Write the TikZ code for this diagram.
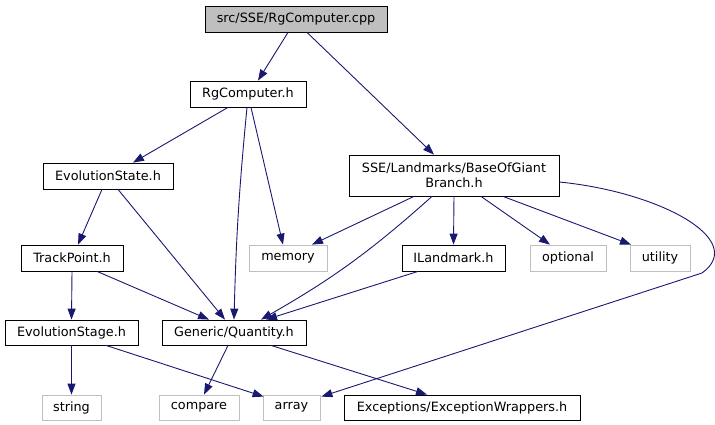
\documentclass[tikz,border=0pt]{standalone}
\usepackage{fontspec}
\setmainfont{DejaVu Sans}
\usetikzlibrary{arrows.meta,positioning}
\definecolor{edge}{HTML}{191970}
\definecolor{sysgray}{HTML}{BFBFBF}

\begin{document}
\begin{tikzpicture}[x=1pt,y=-1pt,
  hdr/.style={draw=#1,fill=white,line width=0.8pt,inner sep=0pt,
    minimum height=25pt,font=\fontsize{12.8}{15}\selectfont},
  hdr/.default=black,
  dep/.style={draw=edge,line width=0.9pt,-{Triangle[length=11pt,width=8pt]}},
]
  \useasboundingbox (0,0) rectangle (715,425);
  \node[hdr,fill=sysgray,minimum width=182pt,minimum height=26pt] (cpp) at (296,19) {src/SSE/RgComputer.cpp};
  \node[hdr,minimum width=116pt,minimum height=26pt] (rgc) at (248,94) {RgComputer.h};
  \node[hdr,minimum width=130pt,minimum height=26pt] (evstate) at (108,176) {EvolutionState.h};
  \node[hdr,minimum width=210pt,minimum height=41pt,align=center] (sse) at (454,175.5) {SSE/Landmarks/BaseOfGiant\\Branch.h};
  \node[hdr,minimum width=102pt,minimum height=26pt] (track) at (72,258) {TrackPoint.h};
  \node[hdr=sysgray,minimum width=78pt,minimum height=26pt] (memory) at (288,258) {memory};
  \node[hdr,minimum width=103pt,minimum height=26pt] (iland) at (453.5,258) {ILandmark.h};
  \node[hdr=sysgray,minimum width=76pt,minimum height=26pt] (optional) at (568,258) {optional};
  \node[hdr=sysgray,minimum width=60pt,minimum height=26pt] (utility) at (660,258) {utility};
  \node[hdr,minimum width=133pt] (evstage) at (71.5,332.5) {EvolutionStage.h};
  \node[hdr,minimum width=144pt] (quantity) at (234,332.5) {Generic/Quantity.h};
  \node[hdr=sysgray,minimum width=59pt] (string) at (71.5,407.5) {string};
  \node[hdr=sysgray,minimum width=80pt] (compare) at (199,407.5) {compare};
  \node[hdr=sysgray,minimum width=57pt] (array) at (291.5,407.5) {array};
  \node[hdr,minimum width=236pt] (excw) at (462,407.5) {Exceptions/ExceptionWrappers.h};

  % includes of the source file
  \draw[dep] ([xshift=-8pt]cpp.south) -- ([xshift=10pt]rgc.north);
  \draw[dep] ([xshift=11pt]cpp.south) -- ([xshift=-20pt]sse.north);
  % RgComputer.h
  \draw[dep] ([xshift=-20pt]rgc.south) -- ([xshift=25pt]evstate.north);
  \draw[dep] ([xshift=-1pt]rgc.south) to[bend right=2] (quantity.north);
  \draw[dep] ([xshift=3pt]rgc.south) -- ([xshift=-5pt]memory.north);
  % EvolutionState.h
  \draw[dep] ([xshift=-6pt]evstate.south) -- ([xshift=6pt]track.north);
  \draw[dep] ([xshift=10pt]evstate.south) -- ([xshift=-9pt]quantity.north);
  % BaseOfGiantBranch.h
  \draw[dep] ([xshift=-40pt]sse.south) -- ([xshift=24pt]memory.north);
  \draw[dep] ([xshift=-22pt]sse.south) to[bend left=6] ([xshift=27pt]quantity.north);
  \draw[dep] (sse.south) -- (iland.north);
  \draw[dep] ([xshift=27pt]sse.south) -- ([xshift=-18pt]optional.north);
  \draw[dep] ([xshift=49pt]sse.south) -- ([xshift=-29pt]utility.north);
  \draw[dep] ([yshift=-6.5pt]sse.east) .. controls (660,192) and (748,240) .. (702,273)
    -- ([shift={(1pt,-2pt)}]array.north east);
  % TrackPoint.h and ILandmark.h
  \draw[dep] (track.south) -- (evstage.north);
  \draw[dep] ([xshift=25pt]track.south) -- ([xshift=-25pt]quantity.north);
  \draw[dep] ([xshift=-35.5pt]iland.south) -- ([xshift=32pt]quantity.north);
  % EvolutionStage.h
  \draw[dep] (evstage.south) -- (string.north);
  \draw[dep] ([xshift=34.5pt]evstage.south) -- ([shift={(1pt,-2pt)}]array.north west);
  % Generic/Quantity.h
  \draw[dep] ([xshift=-6pt]quantity.south) -- ([xshift=5pt]compare.north);
  \draw[dep] ([xshift=37pt]quantity.south) -- ([xshift=-35pt]excw.north);
\end{tikzpicture}
\end{document}
